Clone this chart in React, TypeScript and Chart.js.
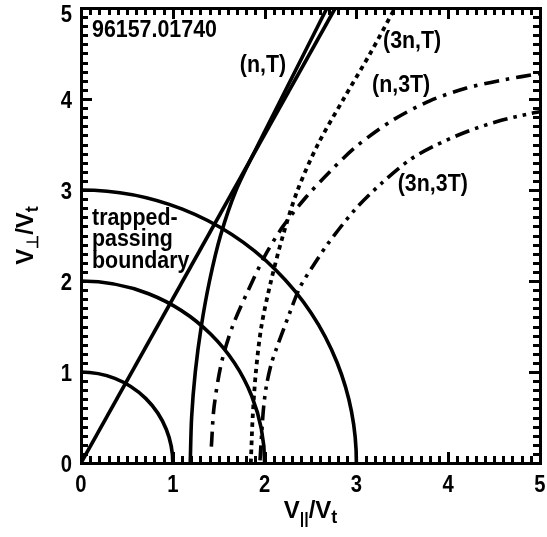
import React, { useEffect, useRef } from "react";
import { Chart, registerables } from "chart.js";

Chart.register(...registerables);

// ---- axes ----
const X_MIN = 0;
const X_MAX = 5;
const Y_MIN = 0;
const Y_MAX = 5;
const MAJOR_TICKS = [0, 1, 2, 3, 4, 5];
const TICK_LABELS = ["0", "1", "2", "3", "4", "5"];
const MINOR_PER_MAJOR = 10;

// ---- constant-energy circles (radius in V/Vt) ----
const CIRCLE_RADII = [1, 2, 3];

// ---- trapped-passing boundary (straight line) ----
const BOUNDARY_X = [0, 2.77];
const BOUNDARY_Y = [0, 5];

// ---- (n,T) solid ----
const NT_X = [1.19, 1.205, 1.245, 1.31, 1.4, 1.52, 1.69, 1.93, 2.18, 2.43, 2.68];
const NT_Y = [0, 0.5, 1.0, 1.5, 2.0, 2.5, 3.0, 3.5, 4.0, 4.5, 5.0];

// ---- (3n,T) dotted ----
const N3T_X = [1.85, 1.87, 1.905, 1.965, 2.07, 2.2, 2.36, 2.58, 2.86, 3.15, 3.42];
const N3T_Y = [0, 0.5, 1.0, 1.5, 2.0, 2.5, 3.0, 3.5, 4.0, 4.5, 5.0];

// ---- (n,3T) dash-dot ----
const NT3_X = [1.42, 1.45, 1.53, 1.65, 1.8, 2.0, 2.2, 2.45, 2.7, 3.0, 3.4, 3.8, 4.2, 4.6, 5.0];
const NT3_Y = [0.18, 0.62, 1.1, 1.5, 1.85, 2.27, 2.6, 2.92, 3.19, 3.48, 3.77, 3.98, 4.12, 4.21, 4.28];

// ---- (3n,3T) dash-dot-dot ----
const N3T3_X = [1.95, 1.97, 1.99, 2.02, 2.07, 2.13, 2.27, 2.39, 2.57, 2.69, 2.98, 3.28, 3.58, 3.84, 4.2, 4.56, 4.89, 5.0];
const N3T3_Y = [0.03, 0.35, 0.62, 0.85, 1.08, 1.26, 1.64, 1.94, 2.23, 2.41, 2.78, 3.08, 3.33, 3.48, 3.64, 3.76, 3.84, 3.86];

// ---- annotations (text, x, y in data units; y = baseline) ----
const ANNOT_TEXT = ["96157.01740", "(n,T)", "(3n,T)", "(n,3T)", "(3n,3T)", "trapped-", "passing", "boundary"];
const ANNOT_X = [0.12, 1.73, 3.29, 3.17, 3.45, 0.12, 0.12, 0.12];
const ANNOT_Y = [4.68, 4.3, 4.56, 4.08, 2.99, 2.62, 2.38, 2.14];

const FONT = '"Liberation Sans", Arial, Helvetica, sans-serif';

function pts(xs: number[], ys: number[]) {
  return xs.map((x, i) => ({ x, y: ys[i] }));
}

function scaledText(ctx: CanvasRenderingContext2D, text: string, x: number, y: number, sx: number, align: CanvasTextAlign) {
  ctx.save();
  ctx.translate(x, y);
  ctx.scale(sx, 1);
  ctx.textAlign = align;
  ctx.textBaseline = "alphabetic";
  ctx.fillText(text, 0, 0);
  ctx.restore();
}

type Part = [string, number, number];

function drawSeq(ctx: CanvasRenderingContext2D, parts: Part[]) {
  let total = 0;
  const widths: number[] = [];
  for (const [t, size] of parts) {
    ctx.font = `bold ${size}px ${FONT}`;
    const w = ctx.measureText(t).width;
    widths.push(w);
    total += w;
  }
  let x = -total / 2;
  parts.forEach(([t, size, dy], i) => {
    ctx.font = `bold ${size}px ${FONT}`;
    ctx.textAlign = "left";
    ctx.textBaseline = "alphabetic";
    ctx.fillText(t, x, dy);
    x += widths[i];
  });
}

const decor = {
  id: "decor",
  beforeDatasetsDraw(chart: any) {
    const ctx: CanvasRenderingContext2D = chart.ctx;
    const xs = chart.scales.x;
    const ys = chart.scales.y;
    const cx = xs.getPixelForValue(0);
    const cy = ys.getPixelForValue(0);
    ctx.save();
    ctx.beginPath();
    ctx.rect(chart.chartArea.left, chart.chartArea.top, chart.chartArea.width, chart.chartArea.height);
    ctx.clip();
    ctx.setLineDash([]);
    ctx.strokeStyle = "#000";
    ctx.lineWidth = 3.6;
    for (const r of CIRCLE_RADII) {
      const rx = xs.getPixelForValue(r) - cx;
      const ry = cy - ys.getPixelForValue(r);
      ctx.beginPath();
      ctx.ellipse(cx, cy, rx, ry, 0, -Math.PI / 2, 0);
      ctx.stroke();
    }
    ctx.restore();
  },
  afterDraw(chart: any) {
    const ctx: CanvasRenderingContext2D = chart.ctx;
    const xs = chart.scales.x;
    const ys = chart.scales.y;
    const ca = chart.chartArea;
    const left = Math.round(ca.left);
    const right = Math.round(ca.right);
    const top = Math.round(ca.top);
    const bottom = Math.round(ca.bottom);
    ctx.save();
    ctx.setLineDash([]);
    ctx.fillStyle = "#000000";
    // ticks (inward, all four sides)
    const step = (MAJOR_TICKS[1] - MAJOR_TICKS[0]) / MINOR_PER_MAJOR;
    const n = Math.round((X_MAX - X_MIN) / step);
    for (let i = 0; i <= n; i++) {
      const major = i % MINOR_PER_MAJOR === 0;
      const len = major ? 11 : 7;
      const px = Math.round(xs.getPixelForValue(X_MIN + i * step));
      const py = Math.round(ys.getPixelForValue(Y_MIN + i * step));
      ctx.fillRect(px - 1, bottom - len, 3, len);
      ctx.fillRect(px - 1, top, 3, len);
      ctx.fillRect(left, py - 1, len, 3);
      ctx.fillRect(right - len, py - 1, len, 3);
    }
    // frame (3px)
    ctx.fillRect(left - 1, top - 1, right - left + 3, 3);
    ctx.fillRect(left - 1, bottom - 1, right - left + 3, 3);
    ctx.fillRect(left - 1, top - 1, 3, bottom - top + 3);
    ctx.fillRect(right - 1, top - 1, 3, bottom - top + 3);

    // tick labels
    ctx.font = `bold 23px ${FONT}`;
    MAJOR_TICKS.forEach((v, i) => {
      const px = xs.getPixelForValue(v);
      scaledText(ctx, TICK_LABELS[i], px, bottom + 29, 0.88, "center");
      const py = ys.getPixelForValue(v);
      scaledText(ctx, TICK_LABELS[i], left - 9, Math.max(py + 8.5, 22), 0.88, "right");
    });

    // annotations
    ctx.font = `bold 23px ${FONT}`;
    ANNOT_TEXT.forEach((t, i) => {
      scaledText(ctx, t, xs.getPixelForValue(ANNOT_X[i]), ys.getPixelForValue(ANNOT_Y[i]), 0.93, "left");
    });

    // x title: V||/Vt
    ctx.save();
    ctx.translate((left + right) / 2, bottom + 55);
    drawSeq(ctx, [["V", 24, 0], ["||", 16, 6], ["/V", 24, 0], ["t", 18, 5]]);
    ctx.restore();

    // y title: V⊥/Vt
    ctx.save();
    ctx.translate(33, (top + bottom) / 2);
    ctx.rotate(-Math.PI / 2);
    drawSeq(ctx, [["V", 24, 0], ["\u22A5", 16, 5], ["/V", 24, 0], ["t", 18, 5]]);
    ctx.restore();

    ctx.restore();
  },
};

function lineDs(xs: number[], ys: number[], dash: number[], width = 3.6) {
  return {
    data: pts(xs, ys),
    showLine: true,
    pointRadius: 0,
    borderColor: "#000",
    borderWidth: width,
    borderDash: dash,
    borderCapStyle: "butt",
    tension: 0.3,
    fill: false,
  };
}

export default function App() {
  const ref = useRef<HTMLCanvasElement | null>(null);
  useEffect(() => {
    if (!ref.current) return;
    const chart = new Chart(ref.current, {
      type: "scatter",
      data: {
        datasets: [
          lineDs(BOUNDARY_X, BOUNDARY_Y, []),
          lineDs(NT_X, NT_Y, []),
          lineDs(N3T_X, N3T_Y, [4.5, 4.5], 3.8),
          lineDs(NT3_X, NT3_Y, [15, 7, 3.5, 7]),
          lineDs(N3T3_X, N3T3_Y, [15, 6, 3.5, 6, 3.5, 6]),
        ] as any,
      },
      options: {
        animation: false,
        responsive: false,
        devicePixelRatio: 1,
        events: [],
        layout: { padding: { left: 81, right: 7, top: 8, bottom: 74 }, autoPadding: false } as any,
        scales: {
          x: { type: "linear", min: X_MIN, max: X_MAX, display: false },
          y: { type: "linear", min: Y_MIN, max: Y_MAX, display: false },
        },
        plugins: { legend: { display: false }, tooltip: { enabled: false } },
      },
      plugins: [decor],
    });
    return () => chart.destroy();
  }, []);
  return (
    <div style={{ position: "fixed", left: 0, top: 0, width: 547, height: 537, background: "#fff" }}>
      <canvas ref={ref} width={547} height={537} style={{ display: "block" }} />
    </div>
  );
}
